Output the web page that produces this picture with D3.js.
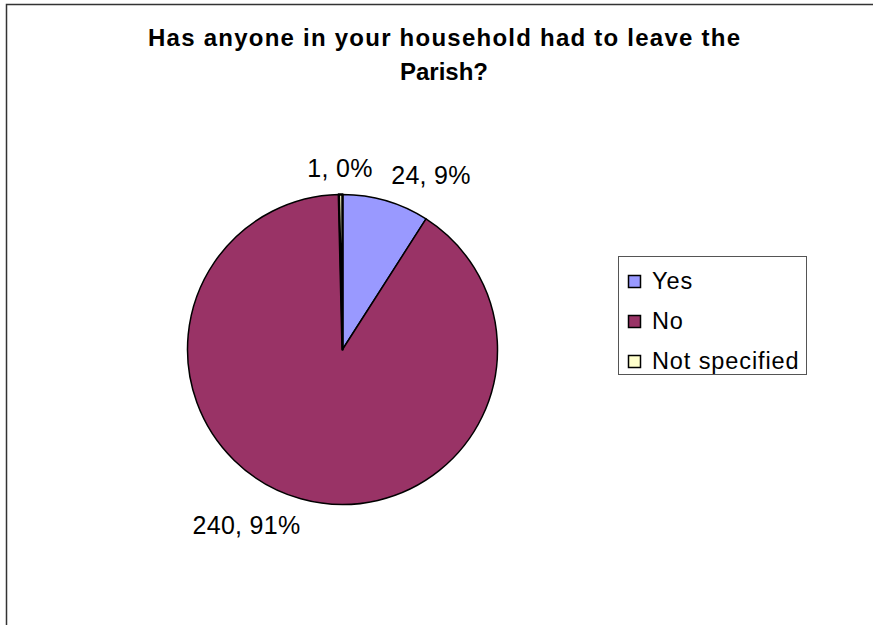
<!DOCTYPE html>
<html>
<head>
<meta charset="utf-8">
<script src="https://cdn.jsdelivr.net/npm/d3@7"></script>
<style>
  html, body { margin: 0; padding: 0; background: #fff; }
  svg { display: block; font-family: "Liberation Sans", Arial, sans-serif; }
</style>
</head>
<body>
<svg id="chart" width="873" height="625"></svg>
<script>
const categories = ["Yes", "No", "Not specified"];
const values = [24, 240, 1];
const labels = ["24, 9%", "240, 91%", "1, 0%"];
const colors = ["#9999FF", "#993366", "#FFFFCC"];
const titleLines = ["Has anyone in your household had to leave the", "Parish?"];

const svg = d3.select("#chart");

// chart border
svg.append("rect")
  .attr("x", 6.5).attr("y", 4.5)
  .attr("width", 900).attr("height", 700)
  .attr("fill", "#fff").attr("stroke", "#333").attr("stroke-width", 1.5);

// title
const titleWidths = [592, null];
svg.append("text")
  .attr("text-anchor", "middle")
  .attr("font-weight", "bold")
  .attr("font-size", 24)
  .attr("fill", "#000")
  .selectAll("tspan").data(titleLines).join("tspan")
  .attr("x", 444)
  .attr("y", (d, i) => 46 + i * 34)
  .attr("textLength", (d, i) => titleWidths[i])
  .attr("lengthAdjust", "spacing")
  .text(d => d);

// pie
const cx = 342.5, cy = 349.5, r = 155;
const pie = d3.pie().sort(null).value(d => d)
  .startAngle(0).endAngle(2 * Math.PI);
const arcs = pie(values);
const arc = d3.arc().innerRadius(0).outerRadius(r);

const g = svg.append("g").attr("transform", `translate(${cx},${cy})`);
g.selectAll("path").data(arcs).join("path")
  .attr("d", arc)
  .attr("fill", (d, i) => colors[i])
  .attr("stroke", "#000")
  .attr("stroke-width", (d, i) => i === 2 ? 2.5 : 1.5)
  .attr("stroke-linejoin", "round");

// data labels (positions chosen per slice around the pie)
const labelPos = [
  {x: 431, y: 184},
  {x: 246.5, y: 534},
  {x: 340, y: 177}
];
svg.selectAll("text.dl").data(arcs).join("text")
  .attr("class", "dl")
  .attr("x", (d, i) => labelPos[i].x)
  .attr("y", (d, i) => labelPos[i].y)
  .attr("text-anchor", "middle")
  .attr("font-size", 25)
  .attr("letter-spacing", 0.3)
  .attr("fill", "#000")
  .text((d, i) => labels[i]);

// legend
const lg = svg.append("g");
lg.append("rect")
  .attr("x", 618.5).attr("y", 256.5)
  .attr("width", 188).attr("height", 118)
  .attr("fill", "#fff").attr("stroke", "#555").attr("stroke-width", 1);
const rows = lg.selectAll("g.row").data(categories).join("g")
  .attr("class", "row")
  .attr("transform", (d, i) => `translate(0, ${281 + i * 40})`);
rows.append("rect")
  .attr("x", 628.5).attr("y", -5.5)
  .attr("width", 12).attr("height", 12)
  .attr("fill", (d, i) => colors[i])
  .attr("stroke", "#000").attr("stroke-width", 1.5);
rows.append("text")
  .attr("x", 652).attr("y", 8)
  .attr("font-size", 23.5)
  .attr("letter-spacing", 0.9)
  .attr("fill", "#000")
  .text(d => d);
</script>
</body>
</html>
